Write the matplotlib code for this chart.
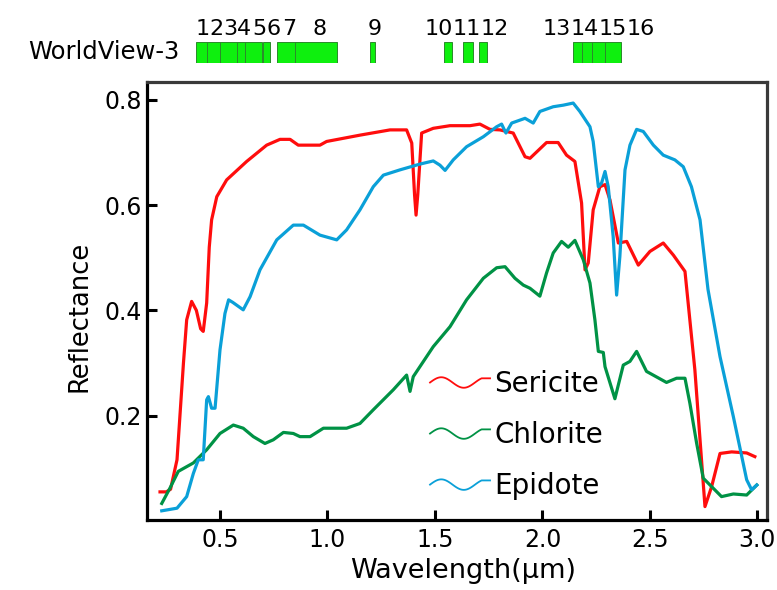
import numpy as np
import matplotlib
matplotlib.use("Agg")
import matplotlib.pyplot as plt
import matplotlib.transforms as mtransforms
from matplotlib.legend_handler import HandlerBase
from matplotlib.lines import Line2D

# Sericite spectrum (wavelength um, reflectance)
ser_w = [0.221, 0.25, 0.27, 0.30, 0.33, 0.345, 0.368, 0.39, 0.41, 0.422, 0.438, 0.45, 0.461, 0.485,
         0.531, 0.624, 0.717, 0.779, 0.826, 0.864, 0.965, 0.996, 1.151, 1.291, 1.368, 1.392, 1.405,
         1.412, 1.42, 1.438, 1.492, 1.570, 1.663, 1.709, 1.756, 1.802, 1.864, 1.919, 1.942, 2.019,
         2.073, 2.112, 2.151, 2.182, 2.198, 2.213, 2.236, 2.267, 2.291, 2.314, 2.353, 2.392, 2.446,
         2.5, 2.562, 2.609, 2.663, 2.678, 2.709, 2.756, 2.787, 2.826, 2.880, 2.950, 2.988]
ser_r = [0.055, 0.055, 0.06, 0.116, 0.30, 0.382, 0.417, 0.40, 0.365, 0.36, 0.414, 0.52, 0.572, 0.616,
         0.648, 0.683, 0.714, 0.725, 0.725, 0.714, 0.714, 0.721, 0.733, 0.743, 0.743, 0.718, 0.62,
         0.581, 0.62, 0.737, 0.746, 0.751, 0.751, 0.754, 0.744, 0.743, 0.737, 0.692, 0.689, 0.719,
         0.719, 0.695, 0.683, 0.604, 0.477, 0.49, 0.591, 0.635, 0.639, 0.61, 0.528, 0.531, 0.486,
         0.512, 0.528, 0.505, 0.474, 0.413, 0.287, 0.027, 0.065, 0.128, 0.131, 0.129, 0.122]

# Chlorite spectrum
chl_w = [0.229, 0.267, 0.306, 0.376, 0.438, 0.5, 0.562, 0.608, 0.655, 0.709, 0.748, 0.795, 0.841,
         0.872, 0.919, 0.981, 1.089, 1.151, 1.213, 1.306, 1.368, 1.384, 1.399, 1.43, 1.492, 1.57,
         1.647, 1.725, 1.787, 1.826, 1.872, 1.911, 1.942, 1.988, 2.019, 2.05, 2.089, 2.12, 2.151,
         2.19, 2.221, 2.244, 2.26, 2.283, 2.291, 2.337, 2.376, 2.407, 2.438, 2.484, 2.577, 2.624,
         2.663, 2.686, 2.717, 2.748, 2.787, 2.833, 2.888, 2.95, 2.997]
chl_r = [0.033, 0.062, 0.094, 0.11, 0.135, 0.166, 0.182, 0.176, 0.16, 0.147, 0.154, 0.168, 0.166,
         0.16, 0.16, 0.176, 0.176, 0.185, 0.211, 0.249, 0.277, 0.246, 0.274, 0.293, 0.331, 0.369,
         0.42, 0.461, 0.481, 0.483, 0.461, 0.448, 0.442, 0.427, 0.471, 0.509, 0.531, 0.52, 0.533,
         0.496, 0.452, 0.382, 0.322, 0.32, 0.293, 0.232, 0.296, 0.303, 0.322, 0.284, 0.263, 0.271,
         0.271, 0.223, 0.148, 0.081, 0.065, 0.046, 0.051, 0.049, 0.068]

# Epidote spectrum
epi_w = [0.229, 0.30, 0.345, 0.376, 0.399, 0.422, 0.438, 0.446, 0.461, 0.477, 0.5, 0.523, 0.540,
         0.560, 0.608, 0.64, 0.686, 0.764, 0.841, 0.888, 0.965, 1.043, 1.089, 1.151, 1.213, 1.26,
         1.337, 1.43, 1.492, 1.523, 1.547, 1.585, 1.647, 1.725, 1.787, 1.81, 1.83, 1.857, 1.919,
         1.957, 1.988, 2.05, 2.097, 2.143, 2.174, 2.221, 2.236, 2.26, 2.275, 2.291, 2.306, 2.329,
         2.345, 2.36, 2.384, 2.407, 2.438, 2.469, 2.516, 2.562, 2.616, 2.655, 2.693, 2.733, 2.77,
         2.826, 2.888, 2.95, 2.973, 2.997]
epi_r = [0.019, 0.024, 0.046, 0.09, 0.116, 0.116, 0.23, 0.236, 0.214, 0.214, 0.325, 0.394, 0.42,
         0.415, 0.401, 0.426, 0.477, 0.534, 0.562, 0.562, 0.543, 0.534, 0.553, 0.591, 0.635, 0.657,
         0.667, 0.678, 0.684, 0.676, 0.666, 0.686, 0.711, 0.73, 0.749, 0.754, 0.737, 0.756, 0.765,
         0.756, 0.778, 0.787, 0.79, 0.794, 0.778, 0.749, 0.721, 0.635, 0.642, 0.664, 0.635, 0.54,
         0.429, 0.502, 0.667, 0.714, 0.744, 0.74, 0.714, 0.695, 0.686, 0.673, 0.635, 0.572, 0.44,
         0.312, 0.198, 0.078, 0.059, 0.068]

# WorldView-3 bands (start, end in um) and label positions
band_names = ["1", "2", "3", "4", "5", "6", "7", "8", "9", "10", "11", "12", "13", "14", "15", "16"]
band_start = [0.388, 0.438, 0.500, 0.578, 0.616, 0.700, 0.764, 0.849, 1.198, 1.543, 1.632, 1.706,
              2.143, 2.182, 2.229, 2.291]
band_end = [0.438, 0.500, 0.578, 0.616, 0.694, 0.733, 0.880, 1.043, 1.221, 1.578, 1.675, 1.740,
            2.182, 2.229, 2.291, 2.364]
label_x = [0.384, 0.449, 0.514, 0.579, 0.649, 0.714, 0.788, 0.928, 1.188, 1.453, 1.584, 1.714,
           2.002, 2.133, 2.263, 2.393]

red = "#ff0d0d"
green = "#009245"
blue = "#0aa0d8"


class WaveHandler(HandlerBase):
    # little wavy line used as legend key
    def create_artists(self, legend, orig_handle, xdescent, ydescent, width, height, fontsize, trans):
        t = np.linspace(0, 1, 80)
        xs = -xdescent + width * t
        ys = -ydescent + height / 2 + 0.27 * height * np.sin(2 * np.pi * np.minimum(t, 0.86) / 0.75)
        line = Line2D(xs, ys, color=orig_handle.get_color(), lw=1.3)
        line.set_transform(trans)
        return [line]


fig = plt.figure(figsize=(7.77, 5.90), dpi=100)
ax = fig.add_axes([0.1888, 0.1186, 0.7979, 0.7424])

l1, = ax.plot(ser_w, ser_r, color=red, lw=2.3, label="Sericite")
l2, = ax.plot(chl_w, chl_r, color=green, lw=2.3, label="Chlorite")
l3, = ax.plot(epi_w, epi_r, color=blue, lw=2.3, label="Epidote")

ax.set_xlim(0.159, 3.043)
ax.set_ylim(0.0015, 0.834)
ax.set_xticks([0.5, 1.0, 1.5, 2.0, 2.5, 3.0])
ax.set_yticks([0.2, 0.4, 0.6, 0.8])
ax.tick_params(direction="in", length=7.5, width=2.2, labelsize=17, colors="black")
ax.tick_params(axis="x", pad=6)
ax.tick_params(axis="y", pad=3.5)
for side in ["left", "bottom"]:
    ax.spines[side].set_linewidth(2.3)
    ax.spines[side].set_color("black")
for side in ["top", "right"]:
    ax.spines[side].set_linewidth(2.3)
    ax.spines[side].set_color("#3a3a3a")

ax.set_xlabel("Wavelength(µm)", fontsize=19.5)
ax.set_ylabel("Reflectance", fontsize=18.5)
ax.xaxis.set_label_coords(0.51, -0.087)
ax.yaxis.set_label_coords(-0.087, 0.466)

leg = ax.legend(handles=[l1, l2, l3], handler_map={Line2D: WaveHandler()},
                loc="upper left", bbox_to_anchor=(0.457, 0.342), frameon=False,
                fontsize=20, borderpad=0, borderaxespad=0, handlelength=2.16,
                handletextpad=0.15, labelspacing=0.83)

# WorldView-3 band strip above the plot
axh = fig.add_axes([0.1888, 0.8927, 0.7979, 0.0366], sharex=ax)
axh.bar(band_start, 1, width=np.array(band_end) - np.array(band_start), align="edge",
        color="#0ef00e", edgecolor="#2a8a2a", linewidth=0.7)
axh.set_ylim(0, 1)
axh.axis("off")

trans = mtransforms.blended_transform_factory(axh.transData, fig.transFigure)
for name, x in zip(band_names, label_x):
    axh.text(x, 1 - 35 / 590, name, transform=trans, ha="left", va="baseline", fontsize=16)
fig.text(180 / 777, 1 - 52 / 590, "WorldView-3", ha="right", va="center", fontsize=17.5)

fig.savefig("out.png", dpi=100)
